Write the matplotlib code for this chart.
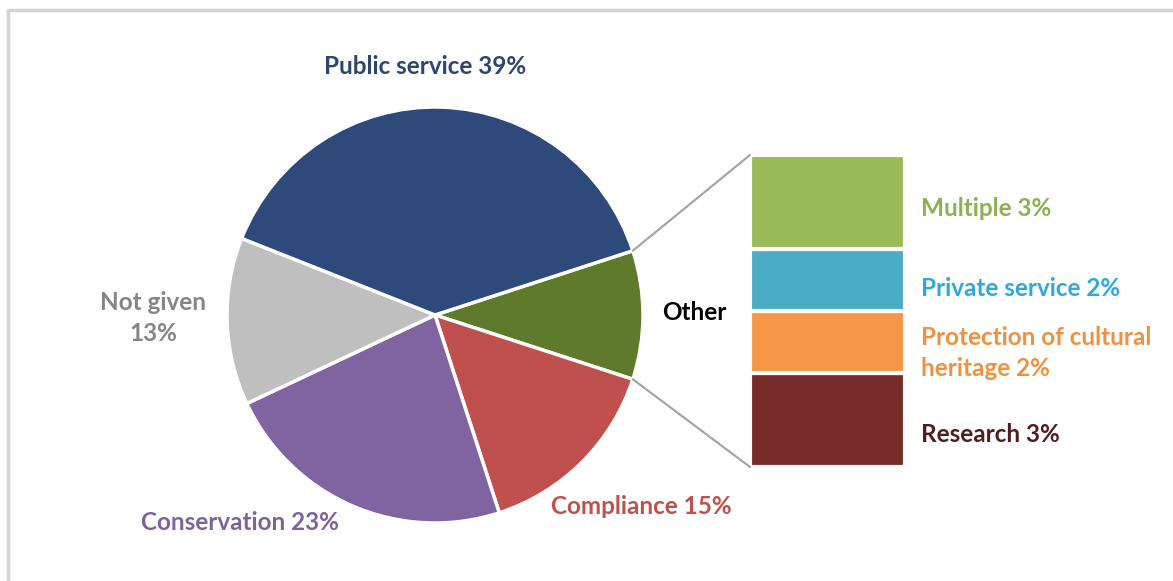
import matplotlib.pyplot as plt
from matplotlib.patches import ConnectionPatch
import numpy as np

plt.rcParams['font.family'] = ['Lato', 'DejaVu Sans']

# main pie, clockwise from the "Other" wedge
pie_labels = ['Other', 'Compliance', 'Conservation', 'Not given', 'Public service']
pie_values = [10, 15, 23, 13, 39]
pie_colors = ['#5f7a2b', '#c0504d', '#8064a2', '#bfbfbf', '#2d4a7b']

# breakdown of "Other", bottom to top
other_labels = ['Research', 'Protection of cultural\nheritage', 'Private service', 'Multiple']
other_values = [3, 2, 2, 3]
other_colors = ['#772c2a', '#f79646', '#4bacc6', '#9bbb59']
other_text_colors = ['#4e1f22', '#f0913f', '#2ea9dc', '#8fb052']

W, H = 1173, 581
fig = plt.figure(figsize=(W / 100, H / 100), dpi=100)
ax = fig.add_axes([0, 0, 1, 1])

cx, cy, r = 435, H - 315, 208
wedges, _ = ax.pie(pie_values, colors=pie_colors, startangle=18, counterclock=False,
                   center=(cx, cy), radius=r, frame=True,
                   wedgeprops=dict(edgecolor='white', linewidth=2.5))
ax.set_xlim(0, W)
ax.set_ylim(0, H)
ax.set_aspect('equal')
ax.axis('off')

# light frame around the chart area
ax.plot([8, 8, W + 5], [-5, H - 10, H - 10], color='#d4d4d4', lw=2.5, solid_capstyle='butt')

bold = dict(fontweight='bold', fontsize=17.5)
ax.text(425, H - 67, 'Public service 39%', color='#2d4670', ha='center', va='center', **bold)
ax.text(694, H - 313, 'Other', color='black', ha='center', va='center', **bold)
ax.text(153, H - 318, 'Not given\n13%', color='#858585', ha='center', va='center',
        linespacing=1.45, **bold)
ax.text(240, H - 522, 'Conservation 23%', color='#7c63a0', ha='center', va='center', **bold)
ax.text(641, H - 507, 'Compliance 15%', color='#c0504d', ha='center', va='center', **bold)

# stacked bar for the "Other" breakdown
bx = fig.add_axes([750 / W, (H - 467) / H, 155 / W, 312 / H])
bottom = np.concatenate([[0], np.cumsum(other_values)[:-1]])
bx.bar([0] * len(other_values), other_values, bottom=bottom, width=1.0,
       color=other_colors, edgecolor='white', linewidth=3)
bx.set_xlim(-0.5, 0.5)
bx.set_ylim(0, sum(other_values))
bx.axis('off')

label_y = [435, 353, 288, 209]
for lab, val, col, y in zip(other_labels, other_values, other_text_colors, label_y):
    ax.text(921, H - y, f'{lab} {val}%', color=col, ha='left', va='center',
            linespacing=1.45, **bold)

# connector lines from the "Other" wedge edge to the bar
ang = np.deg2rad(18)
for sgn, ybar in [(1, sum(other_values)), (-1, 0)]:
    p = (cx + r * np.cos(ang), cy + sgn * r * np.sin(ang))
    con = ConnectionPatch(xyA=p, coordsA=ax.transData, xyB=(-0.5, ybar), coordsB=bx.transData,
                          color='#a6a6a6', lw=1.6)
    fig.add_artist(con)

fig.savefig('out.png', dpi=100)
